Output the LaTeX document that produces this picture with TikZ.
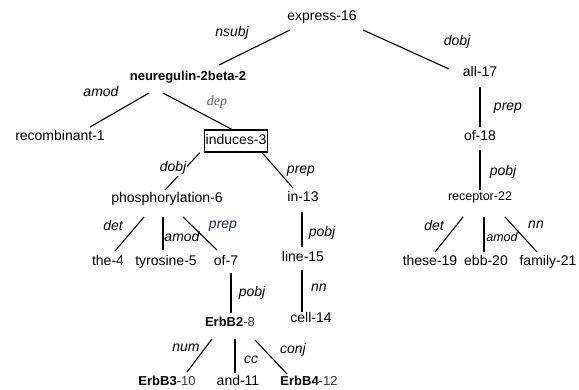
\documentclass[tikz,border=0pt]{standalone}
\usepackage{fontspec}
\setmainfont{Liberation Sans}
\newfontfamily\depserif{Liberation Serif}
\usetikzlibrary{calc}
\definecolor{depgray}{RGB}{95,95,95}
\definecolor{prepblue}{RGB}{30,38,65}
\definecolor{idxgray}{RGB}{55,55,55}
\newcommand{\tokidx}[1]{\textcolor{idxgray}{\mdseries #1}}
\tikzset{
  word/.style={inner sep=0pt, text height=10pt, text depth=3pt, font=\fontsize{14}{16}\selectfont},
  head/.style={word, font=\fontsize{13}{15}\selectfont\bfseries},
  erbb/.style={word, font=\fontsize{13}{15}\selectfont},
  small/.style={word, font=\fontsize{12.5}{15}\selectfont},
  root/.style={word, draw, line width=1.1pt, inner xsep=1.5pt, inner ysep=4.5pt},
  lab/.style={inner sep=1pt, text height=10pt, text depth=3pt, font=\fontsize{14}{16}\selectfont\itshape},
  slab/.style={lab, font=\fontsize{12.5}{15}\selectfont\itshape},
  edge/.style={line width=1.1pt, black},
}

\begin{document}
\begin{tikzpicture}[x=1pt, y=-1pt]
  \useasboundingbox (0,0) rectangle (579,389);

  % Words
  \node[word] (express) at (322,17) {express-16};
  \node[head] (neur) at (188,77) {neuregulin-2beta-2};
  \node[word] (recomb) at (60,137) {recombinant-1};
  \node[root] (induces) at (236,141) {induces-3};
  \node[word] (phosph) at (167,199) {phosphorylation-6};
  \node[word] (in13) at (303,198) {in-13};
  \node[word] (the4) at (108,262) {the-4};
  \node[word] (tyro) at (166,262) {tyrosine-5};
  \node[word] (of7) at (226,262) {of-7};
  \node[word] (line15) at (303,258) {line-15};
  \node[word] (cell14) at (311,319) {cell-14};
  \node[erbb] (erbb2) at (230,323) {\textbf{ErbB2}\tokidx{-8}};
  \node[erbb] (erbb3) at (167,382) {\textbf{ErbB3}\tokidx{-10}};
  \node[word] (and11) at (238,382) {and-11};
  \node[erbb] (erbb4) at (309,382) {\textbf{ErbB4}\tokidx{-12}};
  \node[word] (all17) at (480,73) {all-17};
  \node[word] (of18) at (480,137) {of-18};
  \node[small] (rec22) at (480,197) {receptor-22};
  \node[word] (these19) at (430,262) {these-19};
  \node[word] (ebb20) at (486,262) {ebb-20};
  \node[word] (family21) at (548,262) {family-21};

  % Dependencies
  \draw[edge] ($(express)+(-32,13)$) -- ($(neur)+(31,-12)$);
  \draw[edge] ($(express)+(41,13)$) -- ($(all17)+(-31,-4)$);
  \draw[edge] ($(neur)+(-39,16)$) -- ($(recomb)+(30,-10)$);
  \draw[edge] ($(neur)+(-25,16)$) -- ($(induces.north)+(-4,0)$);
  \draw[edge] ($(induces.south)+(-36,0)$) -- ($(phosph)+(-2,-9)$);
  \draw[edge] ($(induces.south)+(26,0)$) -- ($(in13)+(-10,-10)$);
  \draw[edge] ($(phosph)+(-23,18)$) -- ($(the4)+(7,-11)$);
  \draw[edge] ($(phosph)+(-4,18)$) -- ($(tyro)+(-3,-12)$);
  \draw[edge] ($(phosph)+(16,18)$) -- ($(of7)+(-9,-12)$);
  \draw[edge] ($(of7)+(5,11)$) -- ($(erbb2)+(1,-10)$);
  \draw[edge] ($(erbb2)+(-18,16)$) -- ($(erbb3)+(20,-10)$);
  \draw[edge] ($(erbb2)+(5,16)$) -- ($(and11)+(-3,-9)$);
  \draw[edge] ($(erbb2)+(25,17)$) -- ($(erbb4)+(-22,-8)$);
  \draw[edge] ($(in13)+(-1,14)$) -- ($(line15)+(-1,-11)$);
  \draw[edge] ($(line15)+(-1,12)$) -- ($(cell14)+(-9,-7)$);
  \draw[edge] ($(all17)+(0,14)$) -- ($(of18)+(0,-10)$);
  \draw[edge] ($(of18)+(0,13)$) -- ($(rec22)+(0,-7)$);
  \draw[edge] ($(rec22)+(-17,20)$) -- ($(these19)+(5,-10)$);
  \draw[edge] ($(rec22)+(4,20)$) -- ($(ebb20)+(-2,-10)$);
  \draw[edge] ($(rec22)+(25,20)$) -- ($(family21)+(-11,-10)$);

  % Relation labels
  \node[lab] (l-nsubj) at (232,33) {nsubj};
  \node[lab] (l-dobj1) at (457,42) {dobj};
  \node[lab] (l-amod1) at (101,93) {amod};
  \node[lab, font=\fontsize{14}{16}\selectfont\depserif\itshape, text=depgray] (l-dep) at (217,102) {dep};
  \node[lab, fill=white] (l-dobj2) at (173,168) {dobj};
  \node[lab, fill=white] (l-prep1) at (301,170) {prep};
  \node[lab] (l-prep2) at (508,107) {prep};
  \node[lab] (l-pobj1) at (503,172) {pobj};
  \node[lab] (l-det1) at (113,227) {det};
  \node[lab] (l-amod2) at (182,238) {amod};
  \node[lab, text=prepblue] (l-prep3) at (223,225) {prep};
  \node[lab] (l-pobj2) at (252,293) {pobj};
  \node[lab] (l-num) at (186,348) {num};
  \node[lab] (l-cc) at (251,360) {cc};
  \node[lab] (l-conj) at (293,350) {conj};
  \node[lab] (l-pobj3) at (322,233) {pobj};
  \node[lab] (l-nn1) at (319,288) {nn};
  \node[lab] (l-det2) at (434,227) {det};
  \node[slab] (l-amod3) at (502,238) {amod};
  \node[lab] (l-nn2) at (536,225) {nn};
\end{tikzpicture}
\end{document}
